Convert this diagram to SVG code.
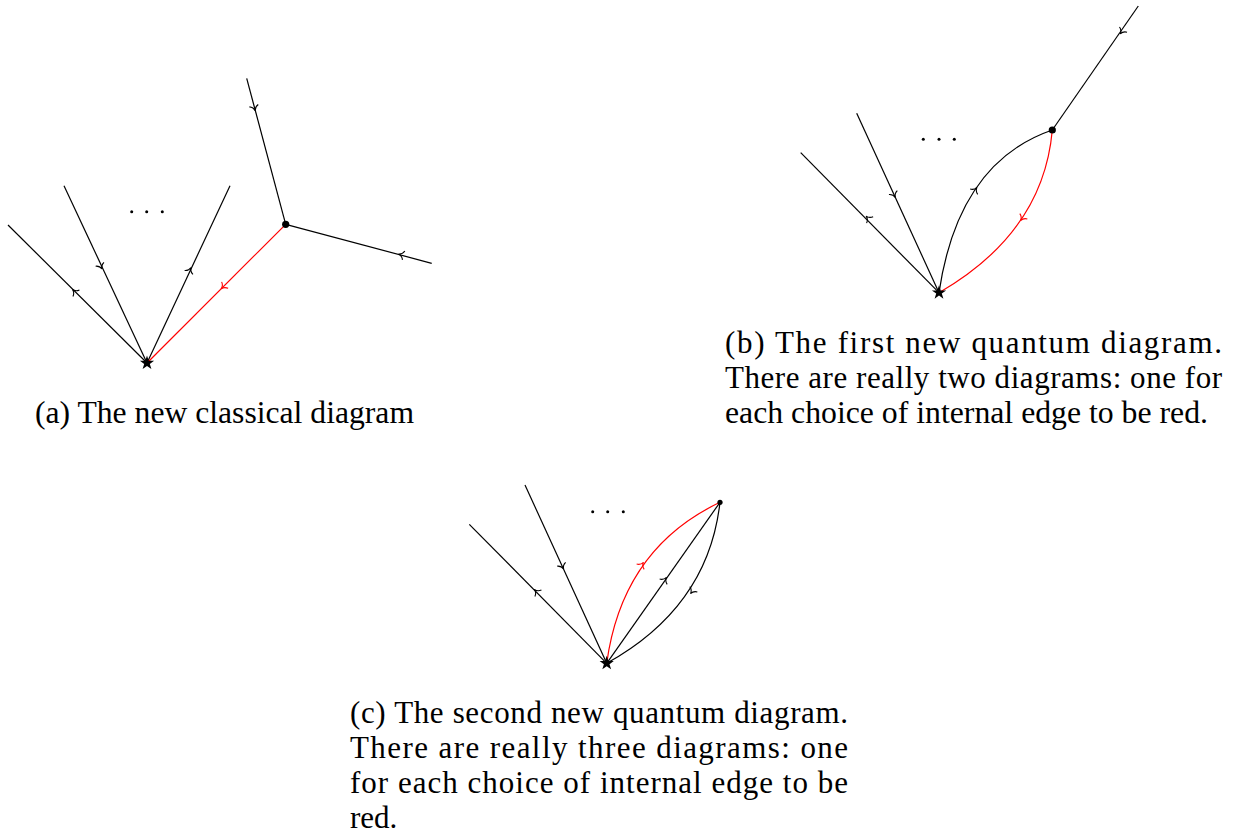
<svg xmlns="http://www.w3.org/2000/svg" width="1235" height="837" viewBox="0 0 1235 837">
<style>
.e{fill:none;stroke:#000;stroke-width:1.2}
.r{fill:none;stroke:#ff0000;stroke-width:1.2}
.ah{fill:none;stroke:#000;stroke-width:1.1}
.ahr{fill:none;stroke:#ff0000;stroke-width:1.1}
.cap{font-family:"Liberation Serif","Times New Roman",serif;font-size:31px;fill:#000}
</style>
<defs>
<path id="ar" d="M-4.5,-4.6 C-3.5,-1.8 -1.3,-0.4 0.8,0 C-1.3,0.4 -3.5,1.8 -4.5,4.6"/>
<polygon id="star" points="0,-7.5 1.7,-2.3 7.1,-2.3 2.8,0.9 4.4,6 0,2.9 -4.4,6 -2.8,0.9 -7.1,-2.3 -1.7,-2.3"/>
</defs>
<rect width="1235" height="837" fill="#fff"/>

<!-- (a) -->
<g id="connectors-a">
<line class="e" x1="147" y1="363" x2="8" y2="225"/>
<line class="e" x1="147" y1="363" x2="64" y2="185.7"/>
<line class="e" x1="147" y1="363" x2="230" y2="185.7"/>
<line class="r" x1="147" y1="363" x2="285.7" y2="224.3"/>
<line class="e" x1="285.7" y1="224.3" x2="246.7" y2="78.3"/>
<line class="e" x1="285.7" y1="224.3" x2="431.7" y2="263.3"/>
<use href="#ar" class="ah" transform="translate(73,290) rotate(-135.2)"/>
<use href="#ar" class="ah" transform="translate(101.7,268.3) rotate(64.9)"/>
<use href="#ar" class="ah" transform="translate(190.7,268.3) rotate(-64.9)"/>
<use href="#ar" class="ahr" transform="translate(221.7,288.3) rotate(135)"/>
<use href="#ar" class="ah" transform="translate(255,110) rotate(75)"/>
<use href="#ar" class="ah" transform="translate(399.3,254.3) rotate(-165)"/>
</g>
<g id="root-a"><use href="#star" transform="translate(147,363)"/></g>
<g id="vertex-a"><circle cx="285.7" cy="224.3" r="3.6"/></g>
<g id="dots-a"><circle cx="131.7" cy="211.7" r="1.5"/><circle cx="146.7" cy="211.7" r="1.5"/><circle cx="162.3" cy="211.7" r="1.5"/></g>
<g id="caption-a"><text class="cap" x="35" y="423" textLength="379" lengthAdjust="spacingAndGlyphs">(a) The new classical diagram</text></g>

<!-- (b) -->
<g id="connectors-b">
<line class="e" x1="939" y1="292.7" x2="800.7" y2="152.7"/>
<line class="e" x1="939" y1="292.7" x2="856.7" y2="113.3"/>
<line class="e" x1="1052.3" y1="130" x2="1138.3" y2="6"/>
<path class="e" d="M939,292.7 Q958.2,162.4 1052.3,130"/>
<path class="r" d="M1052.3,130 Q1043.4,232.4 939,292.7"/>
<use href="#ar" class="ah" transform="translate(866.7,216.7) rotate(-134.6)"/>
<use href="#ar" class="ah" transform="translate(895,196.7) rotate(65.4)"/>
<use href="#ar" class="ah" transform="translate(1120.7,33.3) rotate(124.7)"/>
<use href="#ar" class="ah" transform="translate(976.5,188) rotate(-55.1)"/>
<use href="#ar" class="ahr" transform="translate(1021,220) rotate(124.9)"/>
</g>
<g id="root-b"><use href="#star" transform="translate(939,292.7)"/></g>
<g id="vertex-b"><circle cx="1052.3" cy="130" r="3.6"/></g>
<g id="dots-b"><circle cx="923.3" cy="139.3" r="1.5"/><circle cx="939" cy="139.3" r="1.5"/><circle cx="954.3" cy="139.3" r="1.5"/></g>
<g id="caption-b">
<text class="cap" x="725" y="353" textLength="497" lengthAdjust="spacing">(b) The first new quantum diagram.</text>
<text class="cap" x="725" y="388" textLength="497" lengthAdjust="spacing">There are really two diagrams: one for</text>
<text class="cap" x="725" y="423" textLength="483" lengthAdjust="spacingAndGlyphs">each choice of internal edge to be red.</text>
</g>

<!-- (c) -->
<g id="connectors-c">
<line class="e" x1="606.7" y1="663.3" x2="469.3" y2="524.3"/>
<line class="e" x1="606.7" y1="663.3" x2="525" y2="485"/>
<line class="e" x1="606.7" y1="663.3" x2="720" y2="502.3"/>
<path class="r" d="M606.7,663.3 Q622.3,548.7 720,502.3"/>
<path class="e" d="M720,502.3 Q708.2,607 606.7,663.3"/>
<use href="#ar" class="ah" transform="translate(535,590) rotate(-134.7)"/>
<use href="#ar" class="ah" transform="translate(563.3,568.3) rotate(65.4)"/>
<use href="#ar" class="ahr" transform="translate(643,563) rotate(-54.9)"/>
<use href="#ar" class="ah" transform="translate(666,578) rotate(-54.9)"/>
<use href="#ar" class="ah" transform="translate(691,593) rotate(125.1)"/>
</g>
<g id="root-c"><use href="#star" transform="translate(606.7,663.3)"/></g>
<g id="vertex-c"><circle cx="720" cy="502.3" r="2.6"/></g>
<g id="dots-c"><circle cx="592.7" cy="511.7" r="1.5"/><circle cx="607.7" cy="511.7" r="1.5"/><circle cx="623.3" cy="511.7" r="1.5"/></g>
<g id="caption-c">
<text class="cap" x="350" y="723" textLength="498" lengthAdjust="spacing">(c) The second new quantum diagram.</text>
<text class="cap" x="350" y="758" textLength="498" lengthAdjust="spacing">There are really three diagrams: one</text>
<text class="cap" x="350" y="793" textLength="498" lengthAdjust="spacing">for each choice of internal edge to be</text>
<text class="cap" x="350" y="828">red.</text>
</g>
</svg>
